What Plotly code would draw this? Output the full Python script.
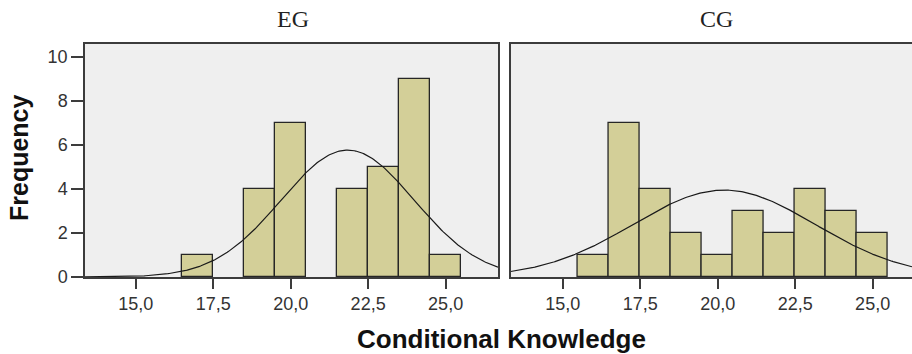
import numpy as np
import plotly.graph_objects as go

# Histogram counts per unit-wide score bin (bin centres on integer scores)
eg_scores = [17, 19, 20, 22, 23, 24, 25]
eg_counts = [1, 4, 7, 4, 5, 9, 1]
cg_scores = [16, 17, 18, 19, 20, 21, 22, 23, 24, 25]
cg_counts = [1, 7, 4, 2, 1, 3, 2, 4, 3, 2]
tick_vals = [15.0, 17.5, 20.0, 22.5, 25.0]
y_ticks = [0, 2, 4, 6, 8, 10]

BAR_FILL = "#d3cf98"
BAR_EDGE = "#262626"
FRAME = "#3c3c3c"
PANEL_BG = "#efefef"

W, H = 912, 354
ML, MR, MT, MB = 85, 0, 44, 77
PW, PH = W - ML - MR, H - MT - MB


def px_x(p):
    return (p - ML) / PW


def px_y(p):
    return (H - MB - p) / PH


def normal_fit(scores, counts, lo, hi):
    s = np.repeat(scores, counts).astype(float)
    n, mu, sd = len(s), s.mean(), s.std(ddof=1)
    xs = np.linspace(lo, hi, 300)
    ys = n * 1.0 / (sd * np.sqrt(2 * np.pi)) * np.exp(-0.5 * ((xs - mu) / sd) ** 2)
    return xs, ys


eg_range = [13.365, 26.69]
cg_range = [13.323, 26.27]

fig = go.Figure()
for scores, counts, rng, xa, ya in [
    (eg_scores, eg_counts, eg_range, "x", "y"),
    (cg_scores, cg_counts, cg_range, "x2", "y2"),
]:
    fig.add_trace(go.Bar(
        x=scores, y=counts, width=1.0, xaxis=xa, yaxis=ya,
        marker=dict(color=BAR_FILL, line=dict(color=BAR_EDGE, width=1.3)),
        showlegend=False, hoverinfo="skip",
    ))
    cx, cy = normal_fit(scores, counts, rng[0], rng[1])
    fig.add_trace(go.Scatter(
        x=cx, y=cy, mode="lines", xaxis=xa, yaxis=ya,
        line=dict(color="#1a1a1a", width=1.2),
        showlegend=False, hoverinfo="skip",
    ))

tick_font = dict(family="Liberation Sans, Arial, sans-serif", size=18, color="#333333")
xcommon = dict(
    tickvals=tick_vals, tickformat=".1f", ticks="outside", ticklen=10,
    tickwidth=1.5, tickcolor=FRAME, showline=True, linecolor=FRAME, linewidth=1.5,
    mirror=True, showgrid=False, zeroline=False, tickfont=tick_font,
)
ycommon = dict(
    range=[0, 10.58], showgrid=False, zeroline=False, showline=True,
    linecolor=FRAME, linewidth=1.5,
)

fig.update_layout(
    width=W, height=H,
    margin=dict(l=ML, r=MR, t=MT, b=MB, pad=0),
    paper_bgcolor="white", plot_bgcolor=PANEL_BG,
    separators=", ",
    bargap=0,
    xaxis=dict(domain=[0, px_x(498)], range=eg_range, anchor="y", **xcommon),
    xaxis2=dict(domain=[px_x(510.7), 1], range=cg_range, anchor="y2", **xcommon),
    yaxis=dict(domain=[0, 1], anchor="x", tickvals=y_ticks, ticks="outside",
               ticklen=12, tickwidth=1.5, tickcolor=FRAME, mirror=True,
               tickfont=tick_font, **ycommon),
    yaxis2=dict(domain=[0, 1], anchor="x2", showticklabels=False, ticks="",
                mirror=False, **ycommon),
    annotations=[
        dict(text="EG", x=px_x(293), y=px_y(19), xref="paper", yref="paper",
             showarrow=False, xanchor="center", yanchor="middle",
             font=dict(family="Liberation Serif, Times New Roman, serif", size=24, color="#222222")),
        dict(text="CG", x=px_x(716.7), y=px_y(19), xref="paper", yref="paper",
             showarrow=False, xanchor="center", yanchor="middle",
             font=dict(family="Liberation Serif, Times New Roman, serif", size=24, color="#222222")),
        dict(text="<b>Frequency</b>", x=px_x(19), y=px_y(158), xref="paper", yref="paper",
             showarrow=False, xanchor="center", yanchor="middle", textangle=-90,
             font=dict(family="Liberation Sans, Arial, sans-serif", size=25, color="#111111")),
        dict(text="<b>Conditional Knowledge</b>", x=px_x(501), y=px_y(339), xref="paper", yref="paper",
             showarrow=False, xanchor="center", yanchor="middle",
             font=dict(family="Liberation Sans, Arial, sans-serif", size=26, color="#111111")),
    ],
)

fig.write_html("out.html")
